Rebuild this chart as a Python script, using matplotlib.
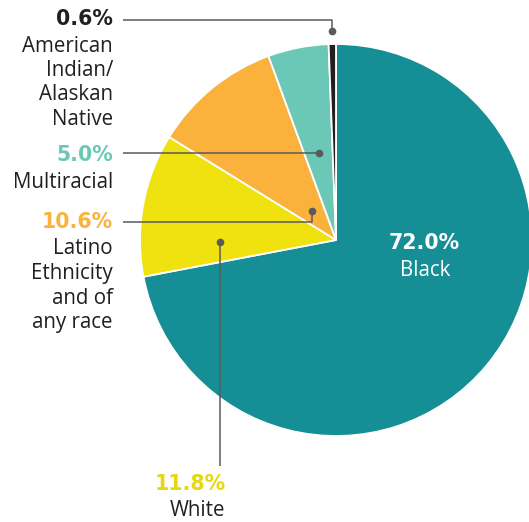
import matplotlib.pyplot as plt

# share of population by race / ethnicity
groups = ["Black", "White", "Latino", "Multiracial", "AmInd"]
shares = [72.0, 11.8, 10.6, 5.0, 0.6]
colors = ["#168E96", "#EFE20F", "#FAB23C", "#6CC8B6", "#231F20"]

W, H = 529, 522
fig = plt.figure(figsize=(W / 100, H / 100), dpi=100)
ax = fig.add_axes([0, 0, 1, 1])

cx, cy, r = 336, H - 240, 196
ax.pie(shares, colors=colors, startangle=90, counterclock=False,
       center=(cx, cy), radius=r, frame=True,
       wedgeprops=dict(edgecolor="white", linewidth=1.3))
ax.set_xlim(0, W)
ax.set_ylim(0, H)
ax.set_aspect("equal")
ax.axis("off")

font = "Open Sans"
num_font = "DejaVu Sans"
line_c = "#5a5a5a"
txt_size = 14.8
num_size = 14.8


def Y(y):
    return H - y


def leader(pts):
    xs = [p[0] for p in pts]
    ys = [Y(p[1]) for p in pts]
    ax.plot(xs, ys, color=line_c, lw=1.1, solid_capstyle="butt")
    ax.plot(xs[0], ys[0], "o", color=line_c, ms=4.5)


def label(x, y, pct, pct_color, lines, ha="right", step=24.5, dx=0):
    ax.text(x, Y(y), pct, ha=ha, va="center", fontsize=num_size, fontweight="bold",
            color=pct_color, family=num_font)
    for i, ln in enumerate(lines):
        ax.text(x + dx, Y(y + 27 + i * step), ln, ha=ha, va="center", fontsize=txt_size,
                color="#231F20", family=font)


# leader lines from each slice to its label
leader([(332, 31), (332, 20), (123, 20)])
leader([(319, 153), (123, 153)])
leader([(312, 211), (312, 222), (123, 222)])
leader([(220, 242), (220, 466)])

label(113, 19, f"{shares[4]:.1f}%", colors[4], ["American", "Indian/", "Alaskan", "Native"])
label(113, 155, f"{shares[3]:.1f}%", colors[3], ["Multiracial"])
label(113, 222, f"{shares[2]:.1f}%", colors[2], ["Latino", "Ethnicity", "and of", "any race"])
label(190, 484, f"{shares[1]:.1f}%", "#E6D80E", ["White"], ha="center", dx=7)

ax.text(424, Y(243), f"{shares[0]:.1f}%", ha="center", va="center", fontsize=num_size,
        fontweight="bold", color="white", family=num_font)
ax.text(425, Y(271), "Black", ha="center", va="center", fontsize=txt_size,
        color="white", family=font)

fig.savefig("out.png", dpi=100)
